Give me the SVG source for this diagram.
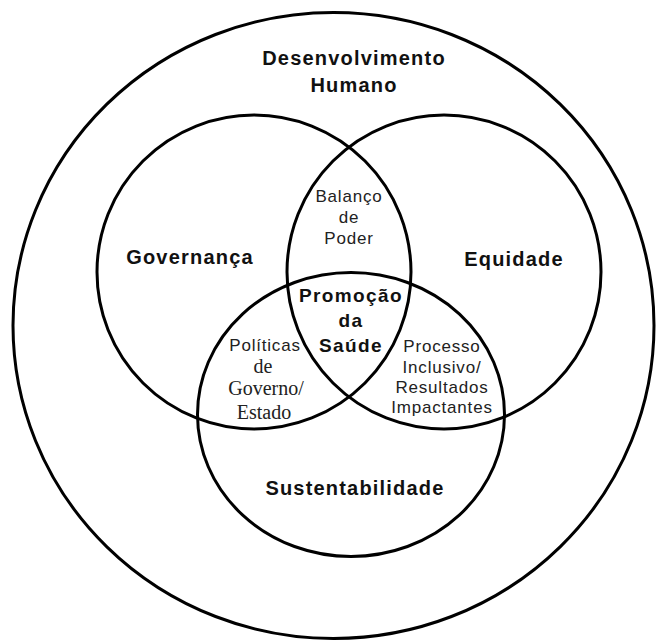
<svg xmlns="http://www.w3.org/2000/svg" width="656" height="641" viewBox="0 0 656 641">
<style>
.ring{fill:none;stroke:#000;stroke-width:3}
.big{font-family:"Liberation Sans",Arial,sans-serif;font-weight:bold;font-size:20px;letter-spacing:1.2px;fill:#111;text-anchor:middle}
.mid{font-family:"Liberation Sans",Arial,sans-serif;font-weight:bold;font-size:19px;letter-spacing:1.4px;fill:#111;text-anchor:middle}
.sm{font-family:"Liberation Sans",Arial,sans-serif;font-size:17px;letter-spacing:0.8px;fill:#222;text-anchor:middle}
.ser{font-family:"Liberation Serif","Times New Roman",serif;font-size:20px;fill:#222;text-anchor:middle}
</style>
<rect width="656" height="641" fill="#fff"/>
<g id="desenvolvimento-humano">
<ellipse class="ring" cx="333.5" cy="325.5" rx="320.5" ry="313"/>
<text class="big" x="354" y="65">Desenvolvimento</text>
<text class="big" x="354" y="92">Humano</text>
</g>
<g id="governanca">
<circle class="ring" cx="254" cy="272" r="157"/>
<text class="big" x="190" y="264">Governança</text>
</g>
<g id="equidade">
<circle class="ring" cx="444" cy="272" r="157"/>
<text class="big" x="514" y="266">Equidade</text>
</g>
<g id="sustentabilidade">
<ellipse class="ring" cx="351" cy="414.5" rx="153.5" ry="142"/>
<text class="big" x="355" y="495">Sustentabilidade</text>
</g>
<g id="balanco-de-poder">
<text class="sm" x="349" y="202">Balanço</text>
<text class="sm" x="349" y="223">de</text>
<text class="sm" x="349" y="244">Poder</text>
</g>
<g id="promocao-da-saude">
<text class="mid" x="351" y="302">Promoção</text>
<text class="mid" x="351" y="327">da</text>
<text class="mid" x="351" y="352">Saúde</text>
</g>
<g id="politicas-de-governo-estado">
<text class="sm" x="265" y="351">Políticas</text>
<text class="ser" x="263" y="373">de</text>
<text class="ser" x="266" y="395">Governo/</text>
<text class="ser" x="264" y="419">Estado</text>
</g>
<g id="processo-inclusivo">
<text class="sm" x="442" y="352">Processo</text>
<text class="sm" x="442" y="373">Inclusivo/</text>
<text class="sm" x="442" y="393">Resultados</text>
<text class="sm" x="442" y="413">Impactantes</text>
</g>
<g id="connectors"></g>
</svg>
